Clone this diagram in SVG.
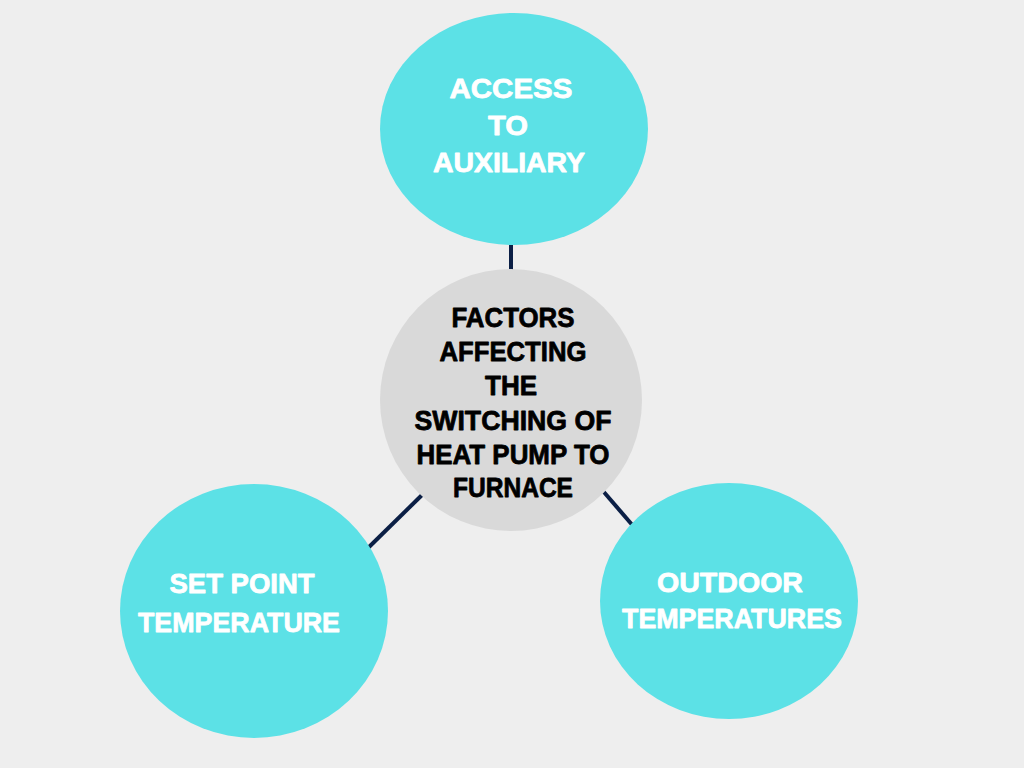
<svg xmlns="http://www.w3.org/2000/svg" width="1024" height="768" viewBox="0 0 1024 768">
<style>
.bg{fill:#EEEEEE}
.outer{fill:#5CE1E6}
.center{fill:#D9D9D9}
.conn{stroke:#0B1F45;stroke-width:4;fill:none}
.lbl{font-family:"Liberation Sans",Arial,sans-serif;font-weight:bold;font-size:28px;text-anchor:middle;stroke-width:0.8;stroke-linejoin:round}
.w{fill:#FFFFFF;stroke:#FFFFFF}
.k{fill:#000000;stroke:#000000}
</style>
<rect class="bg" x="0" y="0" width="1024" height="768"/>
<g id="connectors">
<line class="conn" x1="511" y1="240" x2="511" y2="272"/>
<line class="conn" x1="368" y1="548" x2="422" y2="495"/>
<line class="conn" x1="603" y1="491" x2="634" y2="527"/>
</g>
<g id="node-center">
<circle class="center" cx="511" cy="400" r="131"/>
<text class="lbl k" x="513" y="327" textLength="123" lengthAdjust="spacingAndGlyphs">FACTORS</text>
<text class="lbl k" x="513" y="361" textLength="147" lengthAdjust="spacingAndGlyphs">AFFECTING</text>
<text class="lbl k" x="511" y="395" textLength="52" lengthAdjust="spacingAndGlyphs">THE</text>
<text class="lbl k" x="513" y="430" textLength="197" lengthAdjust="spacingAndGlyphs">SWITCHING OF</text>
<text class="lbl k" x="513" y="464" textLength="193" lengthAdjust="spacingAndGlyphs">HEAT PUMP TO</text>
<text class="lbl k" x="513" y="497" textLength="120" lengthAdjust="spacingAndGlyphs">FURNACE</text>
</g>
<g id="node-access">
<ellipse class="outer" cx="514" cy="129" rx="134" ry="116"/>
<text class="lbl w" x="511" y="98" textLength="123" lengthAdjust="spacingAndGlyphs">ACCESS</text>
<text class="lbl w" x="508" y="135" textLength="40" lengthAdjust="spacingAndGlyphs">TO</text>
<text class="lbl w" x="509" y="172" textLength="152" lengthAdjust="spacingAndGlyphs">AUXILIARY</text>
</g>
<g id="node-setpoint">
<ellipse class="outer" cx="254" cy="611" rx="134" ry="127"/>
<text class="lbl w" x="242" y="593" textLength="145" lengthAdjust="spacingAndGlyphs">SET POINT</text>
<text class="lbl w" x="239" y="632" textLength="202" lengthAdjust="spacingAndGlyphs">TEMPERATURE</text>
</g>
<g id="node-outdoor">
<ellipse class="outer" cx="729" cy="601" rx="129" ry="118"/>
<text class="lbl w" x="730" y="592" textLength="146" lengthAdjust="spacingAndGlyphs">OUTDOOR</text>
<text class="lbl w" x="732" y="628" textLength="220" lengthAdjust="spacingAndGlyphs">TEMPERATURES</text>
</g>
</svg>
